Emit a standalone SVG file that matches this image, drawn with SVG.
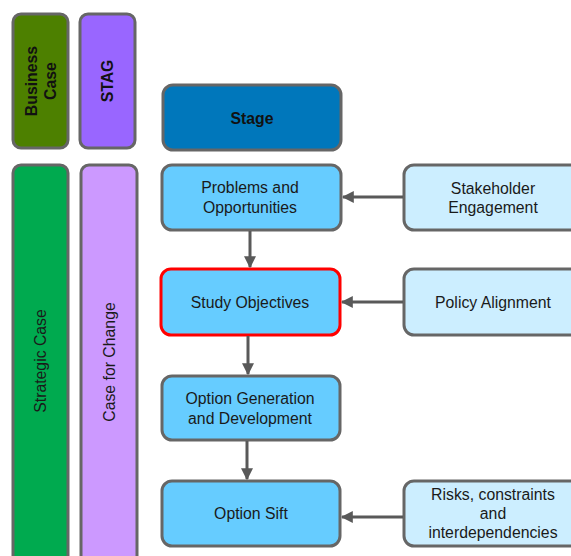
<svg xmlns="http://www.w3.org/2000/svg" width="571" height="556" viewBox="0 0 571 556">
  <defs>
    <marker id="arrow" viewBox="0 0 10 10" refX="9" refY="5" markerWidth="4" markerHeight="4" orient="auto" markerUnits="strokeWidth">
      <path d="M0,0 L10,5 L0,10 z" fill="#595959"/>
    </marker>
    <style>
      .box { stroke: #666666; stroke-width: 3; }
      .t { font-family: "Liberation Sans", Arial, sans-serif; font-size: 15.8px; fill: #1a1a1a; text-anchor: middle; dominant-baseline: central; }
      .b { font-weight: bold; fill: #111111; }
      .conn { stroke: #595959; stroke-width: 3; fill: none; marker-end: url(#arrow); }
    </style>
  </defs>

  <!-- Column headers -->
  <g id="business-case">
    <rect class="box" x="13" y="14" width="55" height="134" rx="8" fill="#4d8000"/>
    <text class="t b" transform="translate(40.5,81) rotate(-90)"><tspan x="0" y="-9.5">Business</tspan><tspan x="0" y="9.5">Case</tspan></text>
  </g>
  <g id="stag">
    <rect class="box" x="80" y="14" width="55" height="134" rx="8" fill="#9966ff"/>
    <text class="t b" transform="translate(107.5,81) rotate(-90)" x="0" y="0">STAG</text>
  </g>

  <!-- Column bands -->
  <g id="strategic-case">
    <rect class="box" x="13" y="165" width="55" height="400" rx="8" fill="#00aa4f"/>
    <text class="t" transform="translate(40.5,361) rotate(-90)" x="0" y="0">Strategic Case</text>
  </g>
  <g id="case-for-change">
    <rect class="box" x="81" y="165" width="56" height="400" rx="8" fill="#cc99ff"/>
    <text class="t" transform="translate(109,362) rotate(-90)" x="0" y="0">Case for Change</text>
  </g>

  <!-- Stage flow -->
  <g id="stage">
    <rect class="box" x="163" y="85" width="178" height="65" rx="10" fill="#0077bb"/>
    <text class="t b" x="252" y="118">Stage</text>
  </g>
  <g id="problems">
    <rect class="box" x="162" y="165" width="179" height="65" rx="10" fill="#66ccff"/>
    <text class="t"><tspan x="250" y="187">Problems and</tspan><tspan x="250" y="206.5">Opportunities</tspan></text>
  </g>
  <g id="study-objectives">
    <rect x="161" y="269" width="179" height="66" rx="10" fill="#66ccff" stroke="#ff0000" stroke-width="3"/>
    <text class="t" x="250" y="302">Study Objectives</text>
  </g>
  <g id="option-generation">
    <rect class="box" x="162" y="376" width="178" height="64" rx="10" fill="#66ccff"/>
    <text class="t"><tspan x="250" y="398">Option Generation</tspan><tspan x="250" y="417.5">and Development</tspan></text>
  </g>
  <g id="option-sift">
    <rect class="box" x="162" y="481" width="178" height="65" rx="10" fill="#66ccff"/>
    <text class="t" x="251" y="513">Option Sift</text>
  </g>

  <!-- Inputs -->
  <g id="stakeholder">
    <rect class="box" x="404" y="165" width="180" height="65" rx="10" fill="#cceeff"/>
    <text class="t"><tspan x="493" y="187.5">Stakeholder</tspan><tspan x="493" y="207">Engagement</tspan></text>
  </g>
  <g id="policy">
    <rect class="box" x="404" y="269" width="180" height="66" rx="10" fill="#cceeff"/>
    <text class="t" x="493" y="302">Policy Alignment</text>
  </g>
  <g id="risks">
    <rect class="box" x="404" y="481" width="180" height="65" rx="10" fill="#cceeff"/>
    <text class="t"><tspan x="493" y="494">Risks, constraints</tspan><tspan x="493" y="513">and</tspan><tspan x="493" y="532">interdependencies</tspan></text>
  </g>

  <!-- Connectors -->
  <g id="connectors">
    <line class="conn" x1="250" y1="231" x2="250" y2="267"/>
    <line class="conn" x1="248" y1="336" x2="248" y2="374"/>
    <line class="conn" x1="247" y1="441" x2="247" y2="479"/>
    <line class="conn" x1="403" y1="197" x2="343" y2="197"/>
    <line class="conn" x1="403" y1="302" x2="342" y2="302"/>
    <line class="conn" x1="403" y1="517" x2="342" y2="517"/>
  </g>
</svg>
